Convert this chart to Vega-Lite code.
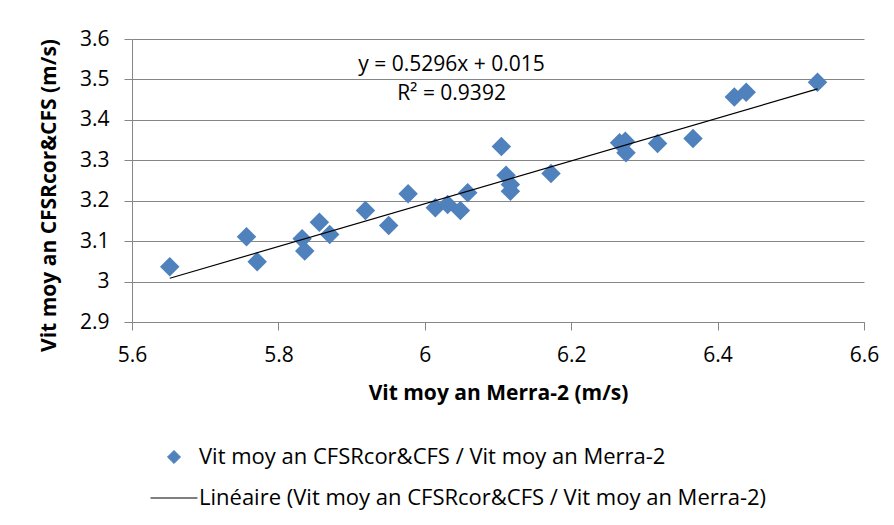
{
  "$schema": "https://vega.github.io/schema/vega-lite/v6.json",
  "autosize": {"type": "none"},
  "padding": {"left": 132, "top": 39, "right": 30, "bottom": 203},
  "width": 732,
  "height": 283,
  "background": "white",
  "config": {
    "view": {"stroke": null},
    "font": "Open Sans"
  },
  "datasets": {
    "points": [
      {"merra": 5.6516, "cfsr": 3.0369, "series": "Vit moy an CFSRcor&CFS / Vit moy an Merra-2"},
      {"merra": 5.7564, "cfsr": 3.1110, "series": "Vit moy an CFSRcor&CFS / Vit moy an Merra-2"},
      {"merra": 5.7710, "cfsr": 3.0493, "series": "Vit moy an CFSRcor&CFS / Vit moy an Merra-2"},
      {"merra": 5.8324, "cfsr": 3.1061, "series": "Vit moy an CFSRcor&CFS / Vit moy an Merra-2"},
      {"merra": 5.8360, "cfsr": 3.0754, "series": "Vit moy an CFSRcor&CFS / Vit moy an Merra-2"},
      {"merra": 5.8560, "cfsr": 3.1470, "series": "Vit moy an CFSRcor&CFS / Vit moy an Merra-2"},
      {"merra": 5.8701, "cfsr": 3.1167, "series": "Vit moy an CFSRcor&CFS / Vit moy an Merra-2"},
      {"merra": 5.9189, "cfsr": 3.1759, "series": "Vit moy an CFSRcor&CFS / Vit moy an Merra-2"},
      {"merra": 5.9507, "cfsr": 3.1389, "series": "Vit moy an CFSRcor&CFS / Vit moy an Merra-2"},
      {"merra": 5.9772, "cfsr": 3.2172, "series": "Vit moy an CFSRcor&CFS / Vit moy an Merra-2"},
      {"merra": 6.0144, "cfsr": 3.1826, "series": "Vit moy an CFSRcor&CFS / Vit moy an Merra-2"},
      {"merra": 6.0312, "cfsr": 3.1908, "series": "Vit moy an CFSRcor&CFS / Vit moy an Merra-2"},
      {"merra": 6.0486, "cfsr": 3.1759, "series": "Vit moy an CFSRcor&CFS / Vit moy an Merra-2"},
      {"merra": 6.0586, "cfsr": 3.2197, "series": "Vit moy an CFSRcor&CFS / Vit moy an Merra-2"},
      {"merra": 6.1046, "cfsr": 3.3340, "series": "Vit moy an CFSRcor&CFS / Vit moy an Merra-2"},
      {"merra": 6.1110, "cfsr": 3.2631, "series": "Vit moy an CFSRcor&CFS / Vit moy an Merra-2"},
      {"merra": 6.1169, "cfsr": 3.2402, "series": "Vit moy an CFSRcor&CFS / Vit moy an Merra-2"},
      {"merra": 6.1169, "cfsr": 3.2236, "series": "Vit moy an CFSRcor&CFS / Vit moy an Merra-2"},
      {"merra": 6.1724, "cfsr": 3.2673, "series": "Vit moy an CFSRcor&CFS / Vit moy an Merra-2"},
      {"merra": 6.2661, "cfsr": 3.3431, "series": "Vit moy an CFSRcor&CFS / Vit moy an Merra-2"},
      {"merra": 6.2739, "cfsr": 3.3471, "series": "Vit moy an CFSRcor&CFS / Vit moy an Merra-2"},
      {"merra": 6.2749, "cfsr": 3.3184, "series": "Vit moy an CFSRcor&CFS / Vit moy an Merra-2"},
      {"merra": 6.3180, "cfsr": 3.3414, "series": "Vit moy an CFSRcor&CFS / Vit moy an Merra-2"},
      {"merra": 6.3664, "cfsr": 3.3538, "series": "Vit moy an CFSRcor&CFS / Vit moy an Merra-2"},
      {"merra": 6.4228, "cfsr": 3.4568, "series": "Vit moy an CFSRcor&CFS / Vit moy an Merra-2"},
      {"merra": 6.4391, "cfsr": 3.4681, "series": "Vit moy an CFSRcor&CFS / Vit moy an Merra-2"},
      {"merra": 6.5365, "cfsr": 3.4928, "series": "Vit moy an CFSRcor&CFS / Vit moy an Merra-2"}
    ],
    "trend": [
      {"merra": 5.6516, "cfsr": 3.0081, "series": "Linéaire (Vit moy an CFSRcor&CFS / Vit moy an Merra-2)"},
      {"merra": 6.5365, "cfsr": 3.4767, "series": "Linéaire (Vit moy an CFSRcor&CFS / Vit moy an Merra-2)"}
    ],
    "notes": [
      {"merra": 6.0365, "cfsr": 3.5217, "label": "y = 0.5296x + 0.015"},
      {"merra": 6.0365, "cfsr": 3.4500, "label": "R² = 0.9392"}
    ]
  },
  "encoding": {
    "x": {
      "field": "merra",
      "type": "quantitative",
      "scale": {"domain": [5.6, 6.6], "nice": false, "zero": false},
      "axis": {
        "title": "Vit moy an Merra-2 (m/s)",
        "values": [5.6, 5.8, 6.0, 6.2, 6.4, 6.6],
        "labelExpr": "format(datum.value, '~g')",
        "labelFlush": false,
        "labelOverlap": false,
        "grid": false,
        "domainColor": "#868686",
        "tickColor": "#868686",
        "tickSize": 8,
        "labelPadding": 14,
        "labelFont": "Open Sans",
        "labelFontSize": 21,
        "labelColor": "#000000",
        "titleFont": "Open Sans",
        "titleFontSize": 21,
        "titleFontWeight": "bold",
        "titleColor": "#000000",
        "titleBaseline": "alphabetic",
        "titleY": 77
      }
    },
    "y": {
      "field": "cfsr",
      "type": "quantitative",
      "scale": {"domain": [2.9, 3.6], "nice": false, "zero": false},
      "axis": {
        "title": "Vit moy an CFSRcor&CFS (m/s)",
        "values": [2.9, 3.0, 3.1, 3.2, 3.3, 3.4, 3.5, 3.6],
        "labelExpr": "format(datum.value, '~g')",
        "labelFlush": false,
        "labelOverlap": false,
        "grid": true,
        "gridColor": "#868686",
        "domainColor": "#868686",
        "tickColor": "#868686",
        "tickSize": 8,
        "labelPadding": 15,
        "labelFont": "Open Sans",
        "labelFontSize": 21,
        "labelColor": "#000000",
        "titleFont": "Open Sans",
        "titleFontSize": 21,
        "titleFontWeight": "bold",
        "titleColor": "#000000",
        "titleAngle": 270,
        "titleAlign": "center",
        "titleBaseline": "alphabetic",
        "titleX": -77,
        "titleY": 156
      }
    }
  },
  "layer": [
    {
      "data": {"name": "points"},
      "mark": {"type": "point", "filled": true, "opacity": 1, "size": 380},
      "encoding": {
        "color": {
          "field": "series",
          "type": "nominal",
          "scale": {
            "domain": ["Vit moy an CFSRcor&CFS / Vit moy an Merra-2", "Linéaire (Vit moy an CFSRcor&CFS / Vit moy an Merra-2)"],
            "range": ["#4F81BD", "#000000"]
          },
          "legend": {
            "title": null,
            "orient": "none",
            "legendX": 31,
            "legendY": 407,
            "labelLimit": 900,
            "labelFont": "Open Sans",
            "labelFontSize": 22,
            "labelColor": "#000000",
            "labelOffset": 14,
            "rowPadding": 19,
            "symbolSize": 170,
            "symbolStrokeWidth": 1,
            "encode": {
              "symbols": {
                "update": {
                  "fill": {"signal": "datum.value === 'Vit moy an CFSRcor&CFS / Vit moy an Merra-2' ? '#4F81BD' : 'transparent'"},
                  "stroke": {"signal": "datum.value === 'Vit moy an CFSRcor&CFS / Vit moy an Merra-2' ? '#4F81BD' : '#000000'"},
                  "strokeWidth": {"value": 1},
                  "opacity": {"value": 1}
                }
              }
            }
          }
        },
        "shape": {
          "field": "series",
          "type": "nominal",
          "scale": {
            "domain": ["Vit moy an CFSRcor&CFS / Vit moy an Merra-2", "Linéaire (Vit moy an CFSRcor&CFS / Vit moy an Merra-2)"],
            "range": ["diamond", "M-3.6,0L3.6,0"]
          }
        }
      }
    },
    {
      "data": {"name": "trend"},
      "mark": {"type": "line", "strokeWidth": 1.2},
      "encoding": {
        "color": {"field": "series", "type": "nominal"}
      }
    },
    {
      "data": {"name": "notes"},
      "mark": {"type": "text", "align": "center", "baseline": "alphabetic", "font": "Open Sans", "fontSize": 21, "color": "#000000"},
      "encoding": {
        "text": {"field": "label", "type": "nominal"}
      }
    }
  ]
}
